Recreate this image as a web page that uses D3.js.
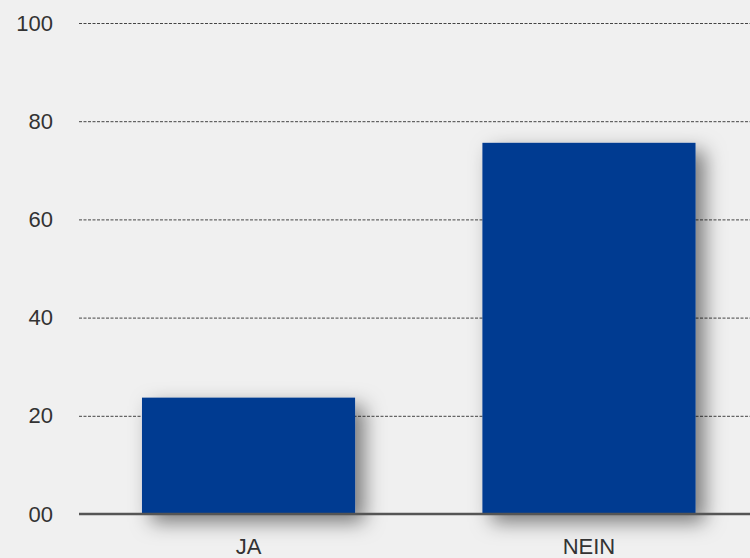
<!DOCTYPE html>
<html>
<head>
<meta charset="utf-8">
<script src="https://cdn.jsdelivr.net/npm/d3@7"></script>
<style>
  html, body { margin: 0; padding: 0; background: #f0f0f0; }
  svg { display: block; font-family: "Liberation Sans", Arial, sans-serif; }
</style>
</head>
<body>
<script>
// data
var categories = ["JA", "NEIN"];
var values = [23.7, 75.6];
var yTicks = [0, 20, 40, 60, 80, 100];

var w = 750, h = 558;
var marginLeft = 79, baseY = 514, topY = 23;

var svg = d3.select("body").append("svg")
    .attr("width", w)
    .attr("height", h);

// soft shadow for the bars
var defs = svg.append("defs");
var f = defs.append("filter").attr("id", "shadow")
    .attr("x", "-30%").attr("y", "-20%").attr("width", "170%").attr("height", "150%");
f.append("feDropShadow")
    .attr("dx", 9).attr("dy", 8)
    .attr("stdDeviation", 10)
    .attr("flood-color", "#000")
    .attr("flood-opacity", 0.5);

svg.append("rect").attr("width", w).attr("height", h).attr("fill", "#f0f0f0");

var x = d3.scaleBand()
    .domain(categories)
    .range([marginLeft, 758.5])
    .paddingInner(0.374)
    .paddingOuter(0.185);

var y = d3.scaleLinear()
    .domain([0, 100])
    .range([baseY, topY]);

// grid lines
var yAxis = d3.axisLeft(y)
    .tickValues(yTicks)
    .tickSize(-(w - marginLeft))
    .tickPadding(26)
    .tickFormat(d3.format("02d"));

var gy = svg.append("g")
    .attr("transform", "translate(" + marginLeft + ",0)")
    .call(yAxis);
gy.select(".domain").remove();
gy.selectAll(".tick line")
    .attr("stroke", "#444")
    .attr("stroke-dasharray", "3,1.5")
    .attr("stroke-width", 1);
gy.selectAll(".tick text")
    .attr("font-size", "22px")
    .attr("fill", "#333")
    .attr("font-family", "Liberation Sans, Arial, sans-serif");

// bars
svg.selectAll("rect.bar")
    .data(values)
    .enter()
    .append("rect")
    .attr("class", "bar")
    .attr("x", function (d, i) { return x(categories[i]); })
    .attr("y", function (d) { return y(d); })
    .attr("width", x.bandwidth())
    .attr("height", function (d) { return baseY - y(d); })
    .attr("fill", "#003a91")
    .attr("filter", "url(#shadow)");

// baseline
svg.append("line")
    .attr("x1", marginLeft).attr("x2", w)
    .attr("y1", baseY).attr("y2", baseY)
    .attr("stroke", "#555")
    .attr("stroke-width", 2.5);

// category labels
var xAxis = d3.axisBottom(x).tickSize(0).tickPadding(24);
var gx = svg.append("g")
    .attr("transform", "translate(0," + baseY + ")")
    .call(xAxis);
gx.select(".domain").remove();
gx.selectAll(".tick text")
    .attr("font-size", "22px")
    .attr("fill", "#333")
    .attr("font-family", "Liberation Sans, Arial, sans-serif");
</script>
</body>
</html>
